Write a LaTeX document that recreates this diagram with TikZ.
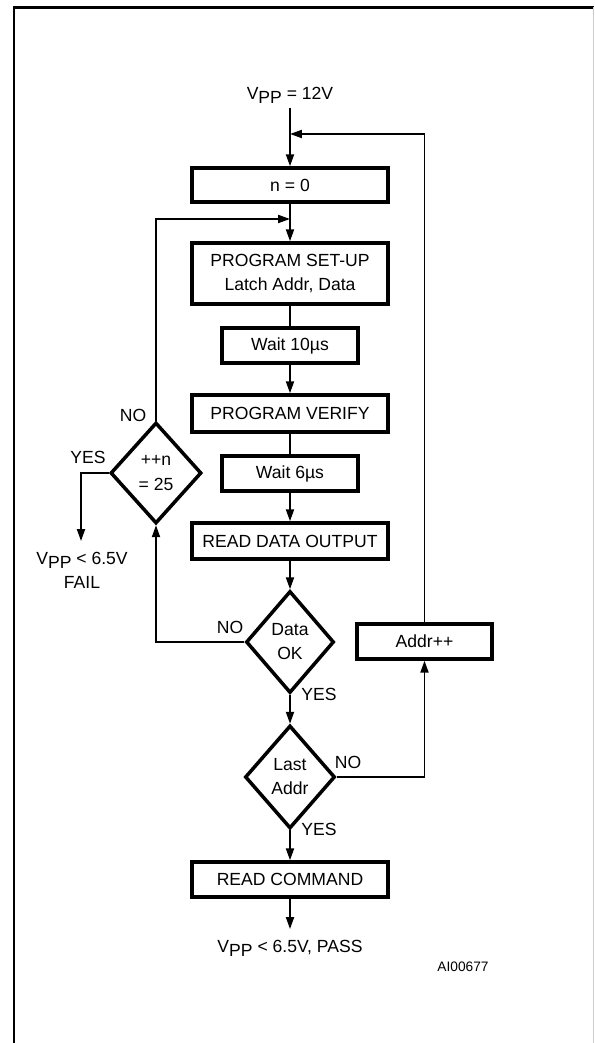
\documentclass[tikz,border=0pt]{standalone}
\usepackage{fontspec}
\setmainfont{Liberation Sans}
\usetikzlibrary{shapes.geometric,arrows.meta}

\newcommand{\Vpp}{V\raisebox{-.45ex}{PP}}

\begin{document}
\begin{tikzpicture}[
  font=\fontsize{10}{13.7}\selectfont,
  stepbox/.style={draw, line width=2pt, inner sep=0pt, align=center},
  testbox/.style={draw, diamond, line width=2pt, inner sep=0pt, align=center},
  link/.style={line width=1pt},
  flow/.style={line width=1pt, -{Triangle[length=6.8pt,width=4.6pt]}}
]
\useasboundingbox (0,0) rectangle (11.88,20.86);

% frame
\draw[line width=1.7pt] (0.28,0) -- (0.28,20.71) -- (11.88,20.71);
\draw[gray!40, line width=0.4pt] (11.86,20.71) -- (11.86,0);

\node (vpptop) at (5.80,18.96) {\Vpp{} = 12V};
\coordinate (start) at (5.80,18.70);
\coordinate (joinA) at (5.80,18.18);
\coordinate (joinB) at (5.80,16.48);

\node[stepbox, minimum width=3.92cm, minimum height=0.68cm] (nzero) at (5.80,17.16) {n = 0};
\node[stepbox, minimum width=3.92cm, minimum height=1.22cm] (setup) at (5.80,15.39) {PROGRAM SET-UP\\Latch Addr, Data};
\node[stepbox, minimum width=2.72cm, minimum height=0.70cm] (waitA) at (5.80,13.95) {Wait 10µs};
\node[stepbox, minimum width=3.92cm, minimum height=0.74cm] (verify) at (5.80,12.59) {PROGRAM VERIFY};
\node[stepbox, minimum width=2.72cm, minimum height=0.70cm] (waitB) at (5.80,11.39) {Wait 6µs};
\node[stepbox, minimum width=3.92cm, minimum height=0.72cm] (readout) at (5.80,10.04) {READ DATA OUTPUT};

\node[testbox, minimum width=1.76cm, minimum height=2.04cm] (dataok) at (5.80,8.02) {Data\\OK};
\node[testbox, minimum width=1.82cm, minimum height=2.02cm] (count) at (3.12,11.40) {++n\\= 25};
\node[testbox, minimum width=1.80cm, minimum height=2.06cm] (last) at (5.80,5.32) {Last\\Addr};

\node[stepbox, minimum width=2.70cm, minimum height=0.70cm] (addr) at (8.49,8.03) {Addr++};
\node[stepbox, minimum width=3.92cm, minimum height=0.70cm] (readcmd) at (5.80,3.27) {READ COMMAND};

\node[align=center] (fail) at (1.64,9.46) {\Vpp{} < 6.5V\\FAIL};
\coordinate (failend) at (1.62,10.04);
\node (pass) at (5.80,1.90) {\Vpp{} < 6.5V, PASS};
\coordinate (passend) at (5.80,2.28);

\node[font=\fontsize{7.8}{9}\selectfont] (ident) at (9.26,1.52) {AI00677};

\draw[flow] (start) -- (nzero.north);
\draw[flow] (nzero.south) -- (setup.north);
\draw[link] (setup.south) -- (waitA.north);
\draw[flow] (waitA.south) -- (verify.north);
\draw[link] (verify.south) -- (waitB.north);
\draw[flow] (waitB.south) -- (readout.north);
\draw[flow] (readout.south) -- (dataok.north);
\draw[flow] (dataok.south) -- (last.north);
\draw[flow] (last.south) -- (readcmd.north);
\draw[flow] (readcmd.south) -- (passend);

\draw[flow] (dataok.west) -| (count.south);
\draw[flow] (count.north) |- (joinB);
\draw[flow] (count.west) -| (failend);

\draw[flow] (last.east) -| (addr.south);
\draw[flow] (addr.north) |- (joinA);

\node (noA) at (2.66,12.56) {NO};
\node (yesA) at (1.76,11.72) {YES};
\node (noB) at (4.60,8.32) {NO};
\node (yesB) at (6.38,6.98) {YES};
\node (noC) at (6.96,5.62) {NO};
\node (yesC) at (6.38,4.28) {YES};

\end{tikzpicture}
\end{document}
